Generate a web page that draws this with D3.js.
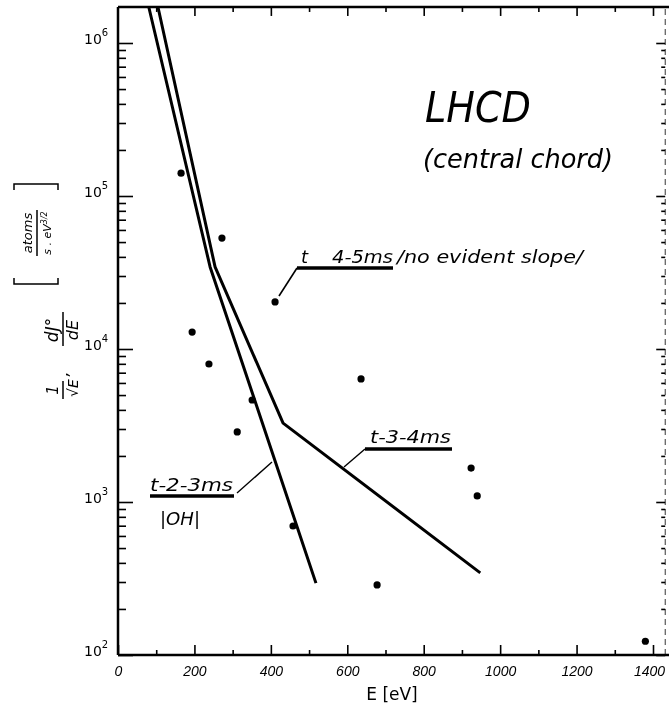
<!DOCTYPE html>
<html>
<head lang="en">
    <meta charset="UTF-8">
    <title>LHCD central chord</title>
    <script src="https://cdn.jsdelivr.net/npm/d3@7"></script>
    <style>
        *{ margin:0; padding:0; }
        body{ background:#fff; }
        text{ font-family:"DejaVu Sans",sans-serif; fill:#000; }
        .hand{ font-style:italic; }
        .tk{ font-family:"Liberation Sans",sans-serif; font-style:italic; }
    </style>
</head>
<body>
<div id="mychart" style="width:669px;height:710px;position:fixed;left:0;top:0"></div>
<script>
    // axis ticks
    var xMajorTicks = [0, 200, 400, 600, 800, 1000, 1200, 1400];
    var xMinorTicks = [100, 300, 500, 700, 900, 1100, 1300];
    var yDecades = [2, 3, 4, 5, 6];
    // fitted lines (E in eV, value)
    var fit23E = [81, 241, 518];
    var fit23V = [1.7e6, 3.44e4, 295];
    var fit34E = [105, 254, 432, 948];
    var fit34V = [1.7e6, 3.44e4, 3280, 344];
    // measured points
    var dotE = [165, 272, 411, 194, 238, 312, 351, 458, 636, 924, 940, 678, 1380];
    var dotV = [1.41e5, 5.31e4, 2.03e4, 1.29e4, 7980, 2870, 4640, 697, 6370, 1667, 1095, 287, 123];

    var _svg = d3.select("#mychart").append("svg")
            .attr("width", 669).attr("height", 710);

    //比例尺
    var _xscale = d3.scaleLinear().domain([0, 1400]).range([118, 653]);
    var _yscale = d3.scaleLog().domain([1e2, 1e6]).range([655, 43]);
    var _xmax = 1432, _ytop = 1.72e6;
    var _left = _xscale(0), _right = _xscale(_xmax);
    var _bottom = _yscale(1e2), _top = _yscale(_ytop);

    _svg.append("clipPath").attr("id", "plotclip")
            .append("rect")
            .attr("x", _left).attr("y", _top)
            .attr("width", _right - _left).attr("height", _bottom - _top);

    //底部x轴
    var _gx = _svg.append("g").attr("transform", "translate(0," + _bottom + ")");
    d3.axisBottom(_xscale).tickValues(xMajorTicks).tickSize(-10).tickPadding(16)
            .tickFormat(function(d){ return d; })(_gx);
    var _gxm = _svg.append("g").attr("transform", "translate(0," + _bottom + ")");
    d3.axisBottom(_xscale).tickValues(xMinorTicks).tickSize(-5).tickFormat("")(_gxm);
    _gxm.select(".domain").remove();
    _gx.select(".domain").attr("d", "M" + _left + ",0H669");
    _gx.selectAll("text").attr("class", "tk").style("font-size", "14px")
            .attr("dy", "0.35em")
            .attr("dx", function(d){ return d === 1400 ? -4 : 0; });

    //顶部刻度
    var _gt = _svg.append("g").attr("transform", "translate(0," + _top + ")");
    d3.axisTop(_xscale).tickValues(xMajorTicks.slice(1)).tickSize(-9).tickFormat("")(_gt);
    _gt.select(".domain").attr("d", "M" + _left + ",0H669");
    var _gtm = _svg.append("g").attr("transform", "translate(0," + _top + ")");
    d3.axisTop(_xscale).tickValues(xMinorTicks).tickSize(-5).tickFormat("")(_gtm);
    _gtm.select(".domain").remove();

    //y轴刻度
    var _ymajor = yDecades.map(function(p){ return Math.pow(10, p); });
    var _yminor = [];
    yDecades.forEach(function(p){
        for (var k = 2; k <= 9; k++) {
            var v = k * Math.pow(10, p);
            if (v < _ytop) _yminor.push(v);
        }
    });
    var _gy = _svg.append("g").attr("transform", "translate(" + _left + ",0)");
    d3.axisLeft(_yscale).tickValues(_ymajor).tickSize(-15).tickPadding(8)
            .tickFormat(function(){ return ""; })(_gy);
    _gy.select(".domain").attr("d", "M0," + _bottom + "V" + _top);
    var _gym = _svg.append("g").attr("transform", "translate(" + _left + ",0)");
    d3.axisLeft(_yscale).tickValues(_yminor).tickSize(-8).tickFormat("")(_gym);
    _gym.select(".domain").remove();

    // 10^n labels
    _gy.selectAll(".tick").each(function(d){
        var t = d3.select(this).append("text")
                .attr("x", -34).attr("y", 0)
                .attr("text-anchor", "start")
                .style("font-size", "14px");
        t.append("tspan").text("10");
        t.append("tspan").attr("dy", -8).style("font-size", "10px")
                .text(Math.round(Math.log10(d)));
    });

    //右侧轴
    var _gr = _svg.append("g").attr("transform", "translate(" + _right + ",0)");
    d3.axisRight(_yscale).tickValues(_ymajor).tickSize(-9).tickFormat("")(_gr);
    _gr.select(".domain").attr("d", "M0," + _bottom + "V" + _top)
            .attr("stroke-dasharray", "6,4");
    var _grm = _svg.append("g").attr("transform", "translate(" + _right + ",0)");
    d3.axisRight(_yscale).tickValues(_yminor).tickSize(-4).tickFormat("")(_grm);
    _grm.select(".domain").remove();

    _svg.selectAll(".domain").attr("stroke-width", 2.5);
    _gr.select(".domain").attr("stroke-width", 0.8);
    _svg.selectAll(".tick line").attr("stroke-width", 1.6);

    //拟合线
    var _line = d3.line()
            .x(function(d){ return _xscale(d[0]); })
            .y(function(d){ return _yscale(d[1]); });
    var _gc = _svg.append("g").attr("clip-path", "url(#plotclip)");
    [d3.zip(fit23E, fit23V), d3.zip(fit34E, fit34V)].forEach(function(ds){
        _gc.append("path")
                .attr("d", _line(ds))
                .attr("fill", "none")
                .attr("stroke", "#000")
                .attr("stroke-width", 3)
                .attr("stroke-linejoin", "round");
    });
    _gc.selectAll("circle")
            .data(d3.zip(dotE, dotV))
            .enter().append("circle")
            .attr("cx", function(d){ return _xscale(d[0]); })
            .attr("cy", function(d){ return _yscale(d[1]); })
            .attr("r", 3.6)
            .attr("fill", "#000");

    //标注
    var _ga = _svg.append("g");
    function label(x, y, s, size, len){
        var t = _ga.append("text").attr("class", "hand")
                .attr("x", x).attr("y", y)
                .style("font-size", size + "px").text(s);
        if (len) t.attr("textLength", len).attr("lengthAdjust", "spacingAndGlyphs");
        return t;
    }
    function stroke(pts, w){
        _ga.append("path").attr("d", d3.line()(pts))
                .attr("fill", "none").attr("stroke", "#000").attr("stroke-width", w);
    }
    label(425, 122, "LHCD", 42, 106);
    label(423, 168, "(central chord)", 27, 190);

    label(301, 263, "t", 18);
    label(332, 263, "4-5ms", 18, 61);
    stroke([[297, 268], [393, 268]], 3.5);
    stroke([[297, 268], [279, 296]], 1.6);
    label(397, 263, "/no evident slope/", 17, 186);

    label(370, 443, "t-3-4ms", 18, 81);
    stroke([[365, 449], [452, 449]], 3.5);
    stroke([[365, 449], [344, 467]], 1.4);

    label(150, 491, "t-2-3ms", 18, 83);
    stroke([[150, 496], [234, 496]], 3.5);
    stroke([[237, 493], [272, 462]], 1.4);
    label(160, 525, "|OH|", 18, 40);

    _svg.append("text").attr("x", 392).attr("y", 700)
            .attr("text-anchor", "middle").style("font-size", "17px")
            .text("E [eV]");

    // y轴标题 (rotated)
    var _gl = _svg.append("g").attr("transform", "translate(62,330) rotate(-90)");
    function ltxt(u, v, s, size){
        return _gl.append("text").attr("class", "hand")
                .attr("x", u).attr("y", v).attr("text-anchor", "middle")
                .style("font-size", size + "px").text(s);
    }
    function lpath(pts, w){
        _gl.append("path").attr("d", d3.line()(pts))
                .attr("fill", "none").attr("stroke", "#000").attr("stroke-width", w);
    }
    ltxt(-60, -4, "1", 15);
    lpath([[-69, 1], [-51, 1]], 1.5);
    ltxt(-58, 16, "\u221AE", 14);
    ltxt(-44, 6, ",", 15);
    ltxt(0, -4, "dJ\u00B0", 17);
    lpath([[-16, 1], [18, 1]], 1.5);
    ltxt(0, 16, "dE", 16);
    lpath([[52, -48], [46, -48], [46, -4], [52, -4]], 1.5);
    ltxt(97, -30, "atoms", 13);
    lpath([[74, -25], [120, -25]], 1.5);
    var _den = ltxt(97, -11, "s . eV", 11);
    _den.append("tspan").attr("dy", -4).style("font-size", "8px").text("3/2");
    lpath([[140, -48], [146, -48], [146, -4], [140, -4]], 1.5);
</script>
</body>
</html>
